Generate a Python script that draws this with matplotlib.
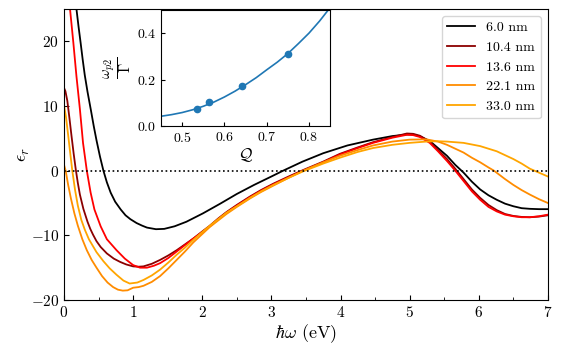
import numpy as np
import matplotlib
matplotlib.use("Agg")
import matplotlib.pyplot as plt

plt.rcParams['font.family'] = 'serif'
plt.rcParams['font.serif'] = ['cmr10']
plt.rcParams['mathtext.fontset'] = 'cm'
plt.rcParams['axes.formatter.use_mathtext'] = True
plt.rcParams['axes.unicode_minus'] = True

x_60 = [0.18, 0.21, 0.24, 0.27, 0.30, 0.34, 0.39, 0.43, 0.47, 0.52, 0.57, 0.62, 0.675, 0.74,
        0.82, 0.89, 0.96, 1.05, 1.13, 1.20, 1.33, 1.45, 1.60, 1.77, 2.01, 2.26, 2.50, 2.75,
        3.00, 3.17, 3.45, 3.75, 4.10, 4.47, 4.75, 4.96, 5.05, 5.15, 5.29, 5.41, 5.54, 5.66,
        5.78, 5.90, 6.02, 6.14, 6.26, 6.38, 6.50, 6.62, 6.74, 6.87, 7.00]
e_60 = [25.0, 22.3, 19.8, 17.2, 14.8, 12.2, 9.3, 6.9, 4.7, 2.2, 0.0, -1.8, -3.4, -4.8,
        -6.0, -6.9, -7.5, -8.1, -8.5, -8.8, -9.05, -9.0, -8.6, -7.9, -6.6, -5.1, -3.6, -2.2,
        -0.9, 0.0, 1.4, 2.7, 3.9, 4.8, 5.35, 5.6, 5.6, 5.3, 4.6, 3.5, 2.3, 0.9,
        -0.3, -1.7, -2.9, -3.8, -4.5, -5.1, -5.5, -5.8, -5.9, -5.95, -5.95]

x_104 = [0.00, 0.02, 0.048, 0.08, 0.106, 0.14, 0.17, 0.20, 0.23, 0.28, 0.34, 0.38, 0.42, 0.47,
         0.53, 0.62, 0.72, 0.81, 0.90, 1.00, 1.08, 1.15, 1.27, 1.39, 1.51, 1.63, 1.75, 1.87,
         2.00, 2.11, 2.23, 2.35, 2.50, 2.69, 2.85, 3.03, 3.25, 3.46, 3.75, 3.99, 4.25, 4.47,
         4.75, 4.96, 5.05, 5.15, 5.29, 5.41, 5.54, 5.66, 5.78, 5.90, 6.02, 6.14, 6.26, 6.38,
         6.50, 6.62, 6.74, 6.87, 7.00]
e_104 = [12.8, 12.3, 10.8, 8.0, 5.6, 2.6, 0.2, -1.9, -3.7, -5.9, -7.9, -9.0, -9.9, -10.9,
         -11.8, -12.8, -13.6, -14.1, -14.5, -14.8, -14.85, -14.8, -14.4, -13.8, -13.1, -12.3, -11.4, -10.5,
         -9.4, -8.5, -7.4, -6.4, -5.3, -4.0, -3.0, -2.0, -0.9, 0.1, 1.4, 2.6, 3.6, 4.4,
         5.2, 5.75, 5.7, 5.4, 4.5, 3.2, 1.8, 0.3, -1.3, -2.9, -4.2, -5.3, -6.1, -6.7,
         -7.0, -7.15, -7.2, -7.1, -6.9]

x_136 = [0.087, 0.135, 0.18, 0.23, 0.275, 0.33, 0.385, 0.44, 0.53, 0.62, 0.76, 0.88, 1.00,
         1.10, 1.20, 1.30, 1.39, 1.51, 1.63, 1.75, 1.87, 2.00, 2.11, 2.23, 2.35, 2.50, 2.69,
         2.85, 3.03, 3.25, 3.46, 3.75, 3.99, 4.25, 4.47, 4.75, 4.96, 5.05, 5.15, 5.29, 5.41,
         5.54, 5.66, 5.78, 5.90, 6.02, 6.14, 6.26, 6.38, 6.50, 6.62, 6.74, 6.87, 7.00]
e_136 = [25.0, 19.8, 14.6, 9.5, 4.3, 0.0, -3.4, -6.0, -8.6, -10.6, -12.3, -13.6, -14.6,
         -15.0, -15.0, -14.7, -14.3, -13.5, -12.5, -11.5, -10.5, -9.5, -8.6, -7.5, -6.5, -5.4,
         -4.1, -3.1, -2.1, -1.0, 0.0, 1.3, 2.5, 3.5, 4.3, 5.1, 5.55, 5.5, 5.2, 4.3, 3.0,
         1.5, 0.0, -1.6, -3.2, -4.5, -5.6, -6.3, -6.8, -7.05, -7.2, -7.2, -7.05, -6.8]

x_221 = [0.00, 0.024, 0.06, 0.10, 0.15, 0.20, 0.265, 0.33, 0.40, 0.47, 0.55, 0.63, 0.71, 0.78,
         0.85, 0.92, 1.00, 1.08, 1.15, 1.27, 1.39, 1.51, 1.63, 1.75, 1.87, 2.00, 2.11, 2.23,
         2.35, 2.50, 2.69, 2.85, 3.03, 3.25, 3.46, 3.75, 3.99, 4.25, 4.47, 4.75, 5.00, 5.24,
         5.41, 5.54, 5.66, 5.78, 5.90, 6.02, 6.14, 6.22, 6.38, 6.50, 6.62, 6.74, 6.87, 7.00]
e_221 = [0.9, 0.0, -2.2, -4.3, -6.6, -8.5, -10.6, -12.3, -13.8, -15.0, -16.3, -17.3, -18.0, -18.4,
         -18.55, -18.5, -18.1, -18.0, -17.8, -17.2, -16.3, -15.1, -13.8, -12.5, -11.1, -9.8, -8.7, -7.7,
         -6.7, -5.6, -4.3, -3.3, -2.3, -1.1, 0.0, 1.3, 2.3, 3.2, 3.9, 4.5, 4.8, 4.85,
         4.5, 4.0, 3.4, 2.8, 2.0, 1.3, 0.5, 0.0, -1.3, -2.2, -3.0, -3.7, -4.4, -5.0]

x_330 = [0.00, 0.03, 0.06, 0.09, 0.12, 0.16, 0.20, 0.25, 0.30, 0.36, 0.47, 0.57, 0.66, 0.76,
         0.86, 0.95, 1.06, 1.15, 1.27, 1.39, 1.51, 1.63, 1.75, 1.87, 2.00, 2.11, 2.23, 2.35,
         2.50, 2.69, 2.85, 3.03, 3.25, 3.46, 3.75, 3.99, 4.25, 4.47, 4.75, 5.00, 5.24, 5.41,
         5.54, 5.78, 5.90, 6.02, 6.14, 6.26, 6.38, 6.50, 6.62, 6.74, 6.87, 7.00]
e_330 = [10.1, 8.2, 5.5, 2.7, 0.0, -3.0, -5.4, -7.6, -9.1, -10.6, -12.6, -14.0, -15.1, -16.1,
         -17.0, -17.45, -17.3, -16.9, -16.2, -15.3, -14.2, -13.0, -11.9, -10.7, -9.5, -8.5, -7.5, -6.5,
         -5.5, -4.2, -3.2, -2.2, -1.1, -0.1, 1.1, 2.0, 2.9, 3.5, 4.0, 4.3, 4.5, 4.55,
         4.5, 4.3, 4.05, 3.8, 3.4, 3.0, 2.4, 1.8, 1.1, 0.3, -0.3, -0.9]

tamanos = ['6.0 nm', '10.4 nm', '13.6 nm', '22.1 nm', '33.0 nm']
colores = ['black', 'darkred', 'red', 'darkorange', 'orange']

# inset: datos y ajuste
Q_puntos = [0.535, 0.563, 0.641, 0.750]
wp2_puntos = [0.075, 0.102, 0.171, 0.311]
Q_ajuste = [0.45, 0.475, 0.50, 0.525, 0.55, 0.575, 0.60, 0.625, 0.65, 0.675, 0.70,
            0.725, 0.75, 0.775, 0.80, 0.825, 0.85]
wp2_ajuste = [0.042, 0.049, 0.058, 0.070, 0.085, 0.103, 0.125, 0.150, 0.178, 0.208, 0.242,
              0.275, 0.312, 0.355, 0.400, 0.452, 0.510]

fig = plt.figure(figsize=(5.62, 3.52), dpi=100)
ax = fig.add_axes([0.1139, 0.1477, 0.861, 0.8267])

series = [(x_60, e_60), (x_104, e_104), (x_136, e_136), (x_221, e_221), (x_330, e_330)]
for (xs, ys), lab, col in zip(series, tamanos, colores):
    ax.plot(xs, ys, color=col, lw=1.3, label=lab)
ax.axhline(0, color='black', ls=':', lw=1.2)

ax.set_xlim(0, 7)
ax.set_ylim(-20, 25)
ax.set_xticks([0, 1, 2, 3, 4, 5, 6, 7])
ax.set_xticks(np.arange(0.5, 7, 1.0), minor=True)
ax.set_yticks([-20, -10, 0, 10, 20])
ax.tick_params(direction='in', labelsize=11, length=3.5)
ax.tick_params(which='minor', direction='in', length=2)
ax.set_xlabel(r'$\hbar\omega$ (eV)', fontsize=13, labelpad=2)
ax.set_ylabel(r'$\epsilon_r$', fontsize=13, labelpad=-1)
ax.legend(loc='upper right', fontsize=10, handlelength=2.0, labelspacing=0.5)

axin = fig.add_axes([0.2865, 0.642, 0.301, 0.330])
axin.plot(Q_ajuste, wp2_ajuste, color='#1f77b4', lw=1.2)
axin.plot(Q_puntos, wp2_puntos, 'o', color='#1f77b4', ms=4.5)
axin.set_xlim(0.45, 0.85)
axin.set_ylim(0, 0.5)
axin.set_xticks([0.5, 0.6, 0.7, 0.8])
axin.set_yticks([0.0, 0.2, 0.4])
axin.tick_params(direction='in', labelsize=10, length=3)
axin.set_xlabel(r'$\mathcal{Q}$', fontsize=12, labelpad=1)
axin.set_ylabel(r'$\frac{\omega_{p2}}{\Gamma}$', fontsize=15, labelpad=2)

plt.savefig('out.png', dpi=100)
